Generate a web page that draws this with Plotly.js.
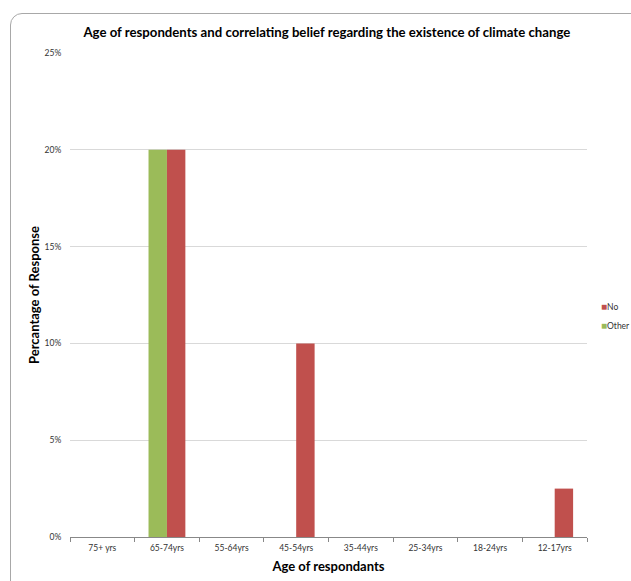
<!DOCTYPE html>
<html>
<head>
<meta charset="utf-8">
<script src="https://cdn.plot.ly/plotly-3.0.1.min.js"></script>
<style>
  html, body { margin: 0; padding: 0; background: #fff; overflow: hidden; }
  #chart { position: absolute; left: 0; top: 0; width: 631px; height: 581px; }
  #frame {
    position: absolute; left: 10px; top: 13px; width: 700px; height: 700px;
    border: 1px solid #a8a8a8; border-top-left-radius: 12px;
    pointer-events: none; box-sizing: border-box;
  }
</style>
</head>
<body>
<div id="chart"></div>
<div id="frame"></div>
<script>
// Age groups, oldest to youngest
const ageGroups = ['75+ yrs', '65-74yrs', '55-64yrs', '45-54yrs', '35-44yrs', '25-34yrs', '18-24yrs', '12-17yrs'];
// Share of responses (%) per answer
const otherPct = [0, 20, 0, 0, 0, 0, 0, 0];
const noPct    = [0, 20, 0, 10, 0, 0, 0, 2.5];
const yTicks   = [0, 5, 10, 15, 20, 25];
const yTickText = ['0%', '5%', '10%', '15%', '20%', '25%'];

const seriesNames  = ['No', 'Other'];
const seriesColors = ['#C0504D', '#9BBB59'];

const font = 'Lato, "Open Sans", sans-serif';

const traces = [
  { type: 'bar', name: 'Other', x: ageGroups, y: otherPct,
    marker: { color: seriesColors[1], line: { width: 0 } } },
  { type: 'bar', name: 'No', x: ageGroups, y: noPct,
    marker: { color: seriesColors[0], line: { width: 0 } } }
];

// compact key on the right: small coloured square + series name
const legendAnnotations = seriesNames.map((n, i) => ({
  xref: 'paper', yref: 'paper', x: 1.023, y: 0.477 - i * 0.038,
  xanchor: 'left', yanchor: 'middle', showarrow: false,
  text: '<span style="color:' + seriesColors[i] + ';font-size:10px">■</span>' + n,
  font: { family: font, size: 8.5, color: '#333' }
}));

const layout = {
  width: 631, height: 581,
  margin: { l: 70, r: 44, t: 53, b: 44, autoexpand: false },
  paper_bgcolor: '#fff', plot_bgcolor: '#fff',
  barmode: 'group', bargap: 0.43, bargroupgap: 0,
  showlegend: false,
  font: { family: font, color: '#333', size: 8.5 },
  title: {
    text: '<b>Age of respondents and correlating belief regarding the existence of climate change</b>',
    font: { family: font, size: 13.2, color: '#000' },
    xref: 'container', x: 0.518, xanchor: 'center', y: 0.945, yanchor: 'middle'
  },
  xaxis: {
    type: 'category', tickson: 'boundaries',
    ticks: 'outside', ticklen: 4, tickcolor: '#888', tickwidth: 1,
    showline: true, linecolor: '#888', linewidth: 1.2,
    showgrid: false, zeroline: false, ticklabelstandoff: 3,
    tickfont: { family: font, size: 8.5, color: '#333' },
    title: { text: '<b>Age of respondants</b>', font: { family: font, size: 13, color: '#000' }, standoff: 9 }
  },
  yaxis: {
    range: [0, 25], tickvals: yTicks, ticktext: yTickText,
    showgrid: true, gridcolor: '#d9d9d9', gridwidth: 1.3,
    zeroline: false, showline: false, ticks: 'outside', ticklen: 6, tickcolor: 'rgba(0,0,0,0)',
    tickfont: { family: font, size: 8.5, color: '#333' },
    title: { text: '<b>Percantage of Response</b>', font: { family: font, size: 13, color: '#000' }, standoff: 2 }
  },
  annotations: legendAnnotations
};

Plotly.newPlot('chart', traces, layout, { displayModeBar: false, staticPlot: true });
</script>
</body>
</html>
